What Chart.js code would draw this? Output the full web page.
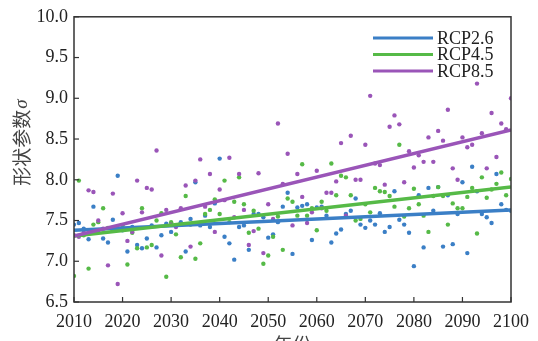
<!DOCTYPE html>
<html>
<head>
<meta charset="utf-8">
<script src="https://cdn.jsdelivr.net/npm/chart.js@4.4.0/dist/chart.umd.min.js"></script>
<style>
html, body { margin: 0; padding: 0; background: #fff; overflow: hidden; }
</style>
</head>
<body>
<canvas id="ShapeParamChart" width="538" height="341"></canvas>
<script>
// yearly values, 2010 ... 2100
var startYear = 2010;
var rcp26 = [7.45, 7.47, 7.40, 7.27, 7.67, 7.38, 7.28, 7.23, 7.51, 8.05,
             7.38, 7.12, 7.42, 7.20, 7.16, 7.28, 7.44, 7.17, 7.32, 7.46,
             7.36, 7.44, 7.48, 7.12, 7.52, 7.97, 7.44, 7.56, 7.42, 7.71,
             8.26, 7.30, 7.22, 7.02, 7.42, 7.44, 7.14, 7.58, 7.58, 7.54,
             7.29, 7.33, 7.48, 7.67, 7.84, 7.09, 7.66, 7.68, 7.70, 7.26,
             7.66, 7.67, 7.56, 7.23, 7.34, 7.39, 7.58, 7.62, 7.77, 7.45,
             7.41, 7.50, 7.45, 7.59, 7.36, 7.42, 7.86, 7.51, 7.45, 7.35,
             6.94, 7.81, 7.17, 7.90, 7.62, 7.91, 7.18, 7.81, 7.21, 7.58,
             7.97, 7.10, 8.16, 7.86, 7.58, 7.54, 7.47, 8.07, 7.70, 7.63,
             7.62];
var rcp45 = [6.82, 7.99, 7.32, 6.91, 7.45, 7.48, 7.65, 7.41, 7.38, 7.40,
             7.44, 6.96, 7.35, 7.16, 7.65, 7.17, 7.20, 7.50, 7.59, 6.81,
             7.48, 7.33, 7.05, 7.80, 7.45, 7.03, 7.22, 7.58, 7.63, 7.76,
             7.58, 7.99, 7.48, 7.73, 8.03, 7.70, 7.35, 7.62, 7.40, 6.97,
             7.07, 7.30, 7.55, 7.14, 7.77, 7.73, 7.56, 8.19, 7.56, 7.65,
             7.38, 7.73, 7.62, 8.20, 7.81, 8.05, 8.03, 7.81, 7.50, 7.52,
             7.70, 7.60, 7.90, 7.86, 7.85, 7.80, 7.67, 8.43, 7.55, 7.65,
             7.89, 7.70, 7.56, 7.36, 7.80, 7.91, 7.80, 7.45, 7.71, 7.65,
             7.65, 7.79, 7.90, 7.34, 8.03, 7.78, 7.88, 7.95, 8.09, 7.81,
             8.01];
var rcp85 = [7.32, 7.30, 7.35, 7.87, 7.85, 7.50, 7.40, 6.95, 7.83, 6.72,
             7.59, 7.25, 7.36, 7.99, 7.60, 7.90, 7.88, 8.36, 7.07, 7.63,
             7.45, 7.42, 7.65, 7.93, 7.18, 7.99, 8.25, 7.67, 8.07, 7.36,
             7.88, 7.75, 8.27, 7.54, 8.07, 7.63, 7.20, 7.37, 8.08, 7.10,
             7.70, 7.52, 8.69, 7.95, 8.32, 7.44, 8.07, 7.79, 7.47, 7.60,
             8.11, 7.65, 7.84, 7.84, 7.98, 8.45, 7.56, 8.54, 8.00, 8.00,
             8.43, 9.03, 8.20, 8.18, 7.94, 8.65, 8.79, 8.68, 7.97, 8.35,
             8.15, 8.30, 8.22, 8.52, 8.22, 8.60, 8.48, 8.86, 8.14, 8.00,
             8.52, 8.40, 8.43, 9.18, 8.57, 8.14, 8.82, 8.28, 8.69, 8.62,
             9.00];

// fitted trend lines, ends
var trendYears = [2010, 2100];
var trend26 = [7.38, 7.63];
var trend45 = [7.31, 7.91];
var trend85 = [7.31, 8.61];

var seriesNames = ['RCP2.6', 'RCP4.5', 'RCP8.5'];
var xTicks = [2010, 2020, 2030, 2040, 2050, 2060, 2070, 2080, 2090, 2100];
var yTicks = [6.5, 7.0, 7.5, 8.0, 8.5, 9.0, 9.5, 10.0];
var yTitle = '形状参数';
var yTitleSymbol = 'σ';
var xTitle = '年份';

var colors = ['#3b7fc6', '#56ba47', '#9a55b8'];
var serif = '"Liberation Serif", "DejaVu Serif", serif';

function toPoints(values) {
    return values.map(function (v, i) { return { x: startYear + i, y: v }; });
}
function toLine(ends) {
    return ends.map(function (v, i) { return { x: trendYears[i], y: v }; });
}

function scatterSet(label, values, color, order) {
    return {
        type: 'scatter',
        label: label,
        data: toPoints(values),
        backgroundColor: color,
        borderWidth: 0,
        pointRadius: 2.2,
        order: order
    };
}
function trendSet(label, ends, color, order) {
    return {
        type: 'line',
        label: label,
        data: toLine(ends),
        borderColor: color,
        borderWidth: 3.5,
        pointRadius: 0,
        fill: false,
        order: order
    };
}

var framePlugin = {
    id: 'frame',
    afterDatasetsDraw: function (chart) {
        var ctx = chart.ctx;
        var a = chart.chartArea;
        var xs = chart.scales.x, ys = chart.scales.y;
        ctx.save();

        // legend
        ctx.fillStyle = '#fff';
        ctx.fillRect(366, 26, 142, 54);
        var rows = [38, 54.5, 71];
        ctx.font = '18px ' + serif;
        ctx.textBaseline = 'middle';
        ctx.textAlign = 'left';
        for (var i = 0; i < seriesNames.length; i++) {
            ctx.strokeStyle = colors[i];
            ctx.lineWidth = 3;
            ctx.beginPath();
            ctx.moveTo(373, rows[i]);
            ctx.lineTo(433, rows[i]);
            ctx.stroke();
            ctx.fillStyle = '#222';
            ctx.fillText(seriesNames[i], 437, rows[i] + 1);
        }

        // box and inner ticks
        ctx.strokeStyle = '#333';
        ctx.lineWidth = 1.5;
        ctx.strokeRect(a.left, a.top, a.right - a.left, a.bottom - a.top);
        ctx.lineWidth = 1.2;
        xTicks.forEach(function (v) {
            var px = xs.getPixelForValue(v);
            ctx.beginPath();
            ctx.moveTo(px, a.bottom);
            ctx.lineTo(px, a.bottom - 5);
            ctx.stroke();
        });
        yTicks.forEach(function (v) {
            var py = ys.getPixelForValue(v);
            ctx.beginPath();
            ctx.moveTo(a.left, py);
            ctx.lineTo(a.left + 5, py);
            ctx.stroke();
        });

        // axis titles
        ctx.fillStyle = '#444';
        ctx.textAlign = 'center';
        ctx.textBaseline = 'top';
        ctx.font = '19px "Noto Sans CJK SC", sans-serif';
        ctx.fillText(xTitle, (a.left + a.right) / 2, 335);

        ctx.translate(22, 143);
        ctx.rotate(-Math.PI / 2);
        ctx.textBaseline = 'middle';
        ctx.textAlign = 'left';
        var w1 = ctx.measureText(yTitle).width;
        ctx.font = 'italic 19px ' + serif;
        var w2 = ctx.measureText(yTitleSymbol).width;
        var x0 = -(w1 + w2) / 2;
        ctx.font = '19px "Noto Sans CJK SC", sans-serif';
        ctx.fillText(yTitle, x0, 0);
        ctx.font = 'italic 19px ' + serif;
        ctx.fillText(yTitleSymbol, x0 + w1 + 1, 0);

        ctx.restore();
    }
};

var ctx = document.getElementById('ShapeParamChart').getContext('2d');
window.ShapeParamChart = new Chart(ctx, {
    type: 'scatter',
    data: {
        datasets: [
            trendSet(seriesNames[0], trend26, colors[0], 2),
            trendSet(seriesNames[1], trend45, colors[1], 1),
            trendSet(seriesNames[2], trend85, colors[2], 0),
            scatterSet(seriesNames[0], rcp26, colors[0], 5),
            scatterSet(seriesNames[1], rcp45, colors[1], 4),
            scatterSet(seriesNames[2], rcp85, colors[2], 3)
        ]
    },
    options: {
        responsive: false,
        animation: false,
        layout: { padding: { left: 0, right: 27, top: 16, bottom: 0 } },
        plugins: {
            legend: { display: false },
            tooltip: { enabled: false }
        },
        scales: {
            x: {
                type: 'linear',
                min: 2010,
                max: 2100,
                afterBuildTicks: function (sc) {
                    sc.ticks = xTicks.map(function (v) { return { value: v }; });
                },
                afterFit: function (sc) { sc.height = 39; },
                grid: { display: false, drawTicks: false },
                border: { display: false },
                ticks: {
                    font: { family: serif, size: 18 },
                    color: '#222',
                    padding: 9,
                    maxRotation: 0,
                    autoSkip: false,
                    callback: function (v) { return String(v); }
                }
            },
            y: {
                min: 6.5,
                max: 10,
                afterBuildTicks: function (sc) {
                    sc.ticks = yTicks.map(function (v) { return { value: v }; });
                },
                afterFit: function (sc) { sc.width = 74; },
                grid: { display: false, drawTicks: false },
                border: { display: false },
                ticks: {
                    font: { family: serif, size: 18 },
                    color: '#222',
                    padding: 6,
                    autoSkip: false,
                    callback: function (v) { return v.toFixed(1); }
                }
            }
        }
    },
    plugins: [framePlugin]
});
</script>
</body>
</html>
